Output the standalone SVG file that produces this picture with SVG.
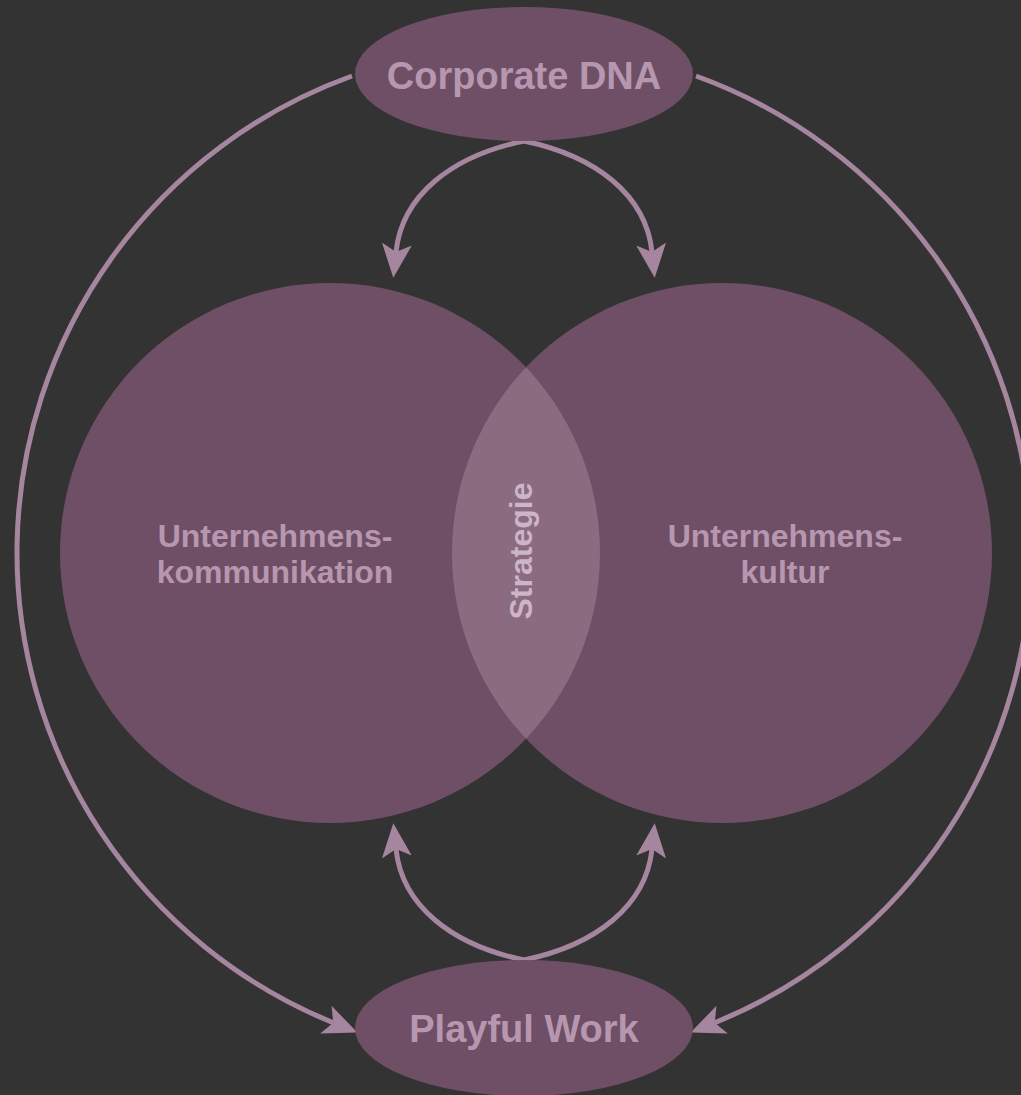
<svg xmlns="http://www.w3.org/2000/svg" width="1021" height="1095" viewBox="0 0 1021 1095">
  <style>
    .bg { fill: #333333; }
    .node { fill: #6f4f66; }
    .lens { fill: #8a6b80; }
    .conn { fill: none; stroke: #a6869f; stroke-width: 5; }
    .label { font-family: "Liberation Sans", Arial, sans-serif; font-weight: bold; fill: #b797b0; text-anchor: middle; }
    .big { font-size: 38px; }
    .mid { font-size: 32px; }
    .strat { fill: #cbb5c6; }
  </style>
  <defs>
    <marker id="arrow" markerUnits="userSpaceOnUse" markerWidth="34" markerHeight="30" refX="8" refY="15" orient="auto" viewBox="0 0 34 30">
      <path d="M0,0 L34,15 L0,30 L8,15 z" fill="#a6869f"/>
    </marker>
    <clipPath id="rightClip">
      <circle cx="722" cy="553" r="270"/>
    </clipPath>
  </defs>
  <rect class="bg" x="0" y="0" width="1021" height="1095"/>

  <g id="connectors">
    <path class="conn" d="M352,76 A507,507 0 0 0 333.3,1022.7" marker-end="url(#arrow)"/>
    <path class="conn" d="M696,76 A507,507 0 0 1 714.7,1022.7" marker-end="url(#arrow)"/>
    <path class="conn" d="M524,141 C452,156 402,195 396,252" marker-end="url(#arrow)"/>
    <path class="conn" d="M524,141 C596,156 646,195 652,252" marker-end="url(#arrow)"/>
    <path class="conn" d="M524,960 C452,945 402,906 396,849" marker-end="url(#arrow)"/>
    <path class="conn" d="M524,960 C596,945 646,906 652,849" marker-end="url(#arrow)"/>
  </g>

  <g id="kommunikation">
    <circle class="node" cx="330" cy="553" r="270"/>
  </g>
  <g id="kultur">
    <circle class="node" cx="722" cy="553" r="270"/>
  </g>
  <g id="strategie">
    <circle class="lens" cx="330" cy="553" r="270" clip-path="url(#rightClip)"/>
    <text class="label mid strat" transform="translate(532,551) rotate(-90)" x="0" y="0">Strategie</text>
  </g>
  <g id="kommunikation-label">
    <text class="label mid" x="275" y="547">Unternehmens-</text>
    <text class="label mid" x="275" y="583">kommunikation</text>
  </g>
  <g id="kultur-label">
    <text class="label mid" x="785" y="547">Unternehmens-</text>
    <text class="label mid" x="785" y="583">kultur</text>
  </g>

  <g id="corporate-dna">
    <ellipse class="node" cx="524" cy="74" rx="169" ry="67"/>
    <text class="label big" x="524" y="89">Corporate DNA</text>
  </g>
  <g id="playful-work">
    <ellipse class="node" cx="524" cy="1028" rx="169" ry="68"/>
    <text class="label big" x="524" y="1042">Playful Work</text>
  </g>
</svg>
